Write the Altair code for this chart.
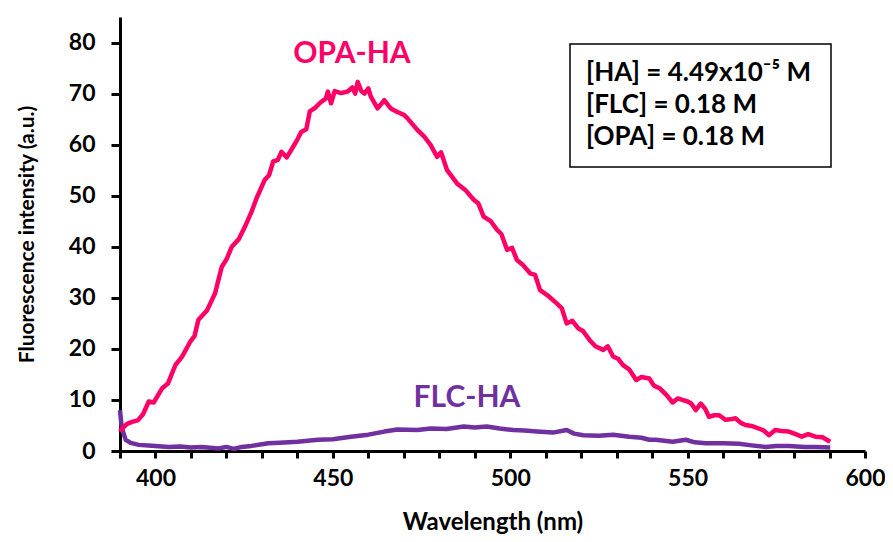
import altair as alt
import pandas as pd

# ---- data ----
opa_wl = [390, 390.6, 392, 393.4, 395, 396.5, 398.1, 399.5, 401.9, 403.5, 405.6, 407.5, 409.8, 411, 412.1,
          414.5, 416.8, 418.7, 420, 421.5, 423.5, 425.2, 427.1, 428.5, 430.8, 432, 433.2, 434.5, 435.5,
          437, 438.3, 440, 441.1, 442.5, 443.5, 445, 446.7, 448, 448.6, 449.5, 450.5, 452.3, 454.2,
          455.5, 456.3, 457, 458, 458.9, 460, 460.7, 462.6, 464.5, 466.3, 468.2, 470.1, 471, 473.8,
          475.7, 477.5, 479.4, 480.5, 482.2, 485, 487.5, 489.7, 491, 492.5, 494.5, 496.3, 497.5, 499.1,
          500.5, 501.9, 503.5, 505.6, 507, 508.4, 510.5, 513.1, 514.5, 515.9, 517.5, 519.2, 520.5,
          522.4, 524, 526.2, 527.5, 529, 530.5, 531.8, 533.5, 535.5, 537, 539.2, 540.5, 542.1, 544,
          545.8, 547.2, 548.5, 550, 551, 552.3, 553.7, 555, 556, 557.5, 558.9, 560.7, 562, 563.5,
          565, 566.3, 568, 570.1, 571.5, 572.9, 574.7, 576.5, 578.5, 580.5, 582.2, 584, 586, 588, 590.2]
opa_val = [3.8, 4.4, 5.3, 5.7, 6.0, 7.2, 9.7, 9.5, 12.3, 13.2, 16.8, 18.5, 21.4, 22.5, 25.7,
           27.5, 30.9, 36.1, 37.5, 40.0, 41.5, 43.9, 46.9, 49.5, 53.1, 54.0, 56.7, 57.0, 58.6,
           57.5, 59.0, 61.0, 62.5, 63.0, 66.5, 67.2, 68.4, 69.0, 70.4, 68.1, 70.5, 70.1, 70.4,
           71.2, 70.0, 72.3, 70.5, 70.0, 71.0, 69.4, 67.1, 68.7, 67.1, 66.4, 65.8, 65.2, 62.9,
           61.6, 60.0, 57.6, 58.5, 55.0, 52.4, 51.0, 49.2, 48.5, 45.9, 45.0, 43.3, 42.5, 39.4,
           39.8, 37.4, 36.5, 34.8, 34.5, 31.5, 30.5, 28.9, 28.0, 25.0, 25.5, 24.0, 23.5,
           21.7, 20.5, 19.8, 20.5, 18.5, 18.0, 16.8, 16.0, 13.9, 14.5, 14.2, 12.8, 12.3, 11.0,
           9.5, 10.3, 10.0, 9.7, 9.3, 8.0, 9.3, 8.2, 6.7, 7.0, 7.0, 6.1, 6.2, 6.4,
           5.5, 5.1, 4.9, 4.4, 4.0, 3.1, 4.1, 3.9, 3.8, 3.3, 2.8, 3.3, 2.8, 2.7, 1.8]

flc_wl = [390, 390.5, 391.6, 393, 395.3, 398, 400, 403.7, 407, 410, 413, 417.8, 420, 422, 424.3, 427,
          431.8, 435, 440, 445.8, 450, 455.1, 460, 464.5, 468.2, 473.8, 477.6, 482, 486.9, 490, 493.4,
          497, 500.9, 504, 507.5, 512, 515.9, 518, 520.6, 525, 529, 533.6, 537, 539.2, 541, 545.8,
          549.5, 552, 555.1, 560, 564.5, 568, 572, 575, 578.5, 583, 586, 590.2]
flc_val = [8.0, 4.5, 2.2, 1.6, 1.2, 1.1, 1.0, 0.8, 0.9, 0.7, 0.8, 0.5, 0.8, 0.4, 0.8, 1.0,
           1.5, 1.6, 1.8, 2.2, 2.3, 2.8, 3.2, 3.8, 4.2, 4.1, 4.4, 4.3, 4.8, 4.6, 4.8,
           4.4, 4.1, 4.0, 3.8, 3.6, 4.1, 3.4, 3.1, 3.0, 3.2, 2.8, 2.6, 2.2, 2.2, 1.8,
           2.2, 1.7, 1.5, 1.5, 1.4, 1.1, 0.8, 1.0, 1.0, 0.8, 0.8, 0.7]

x_ticks = list(range(390, 601, 10))
y_ticks = [0, 10, 20, 30, 40, 50, 60, 70, 80]
box_text_str = "[HA] = 4.49x10⁻⁵ M\n[FLC] = 0.18 M\n[OPA] = 0.18 M"

PINK = "#FF0066"
PURPLE = "#7030A0"
FONT = "Lato"

opa = pd.DataFrame({"wl": opa_wl, "val": opa_val})
flc = pd.DataFrame({"wl": flc_wl, "val": flc_val})

W, H = 745, 434

x_enc = alt.X("wl:Q", scale=alt.Scale(domain=[390, 600], nice=False, zero=False),
              axis=alt.Axis(values=x_ticks, title="Wavelength (nm)", labelFlush=False,
                            labelExpr="datum.value % 50 === 0 ? datum.label : ''",
                            tickSize=7, labelPadding=9, titlePadding=20, titleFontSize=24))
y_enc = alt.Y("val:Q", scale=alt.Scale(domain=[0, 85], nice=False),
              axis=alt.Axis(values=y_ticks, title="Fluorescence intensity (a.u.)", labelFlush=False,
                            tickSize=9, labelPadding=16, titlePadding=31, titleFontSize=21))

flc_line = alt.Chart(flc).mark_line(color=PURPLE, strokeWidth=4.5, strokeJoin="round").encode(x=x_enc, y=y_enc)
opa_line = alt.Chart(opa).mark_line(color=PINK, strokeWidth=4.5, strokeJoin="round").encode(x=x_enc, y=y_enc)

one = pd.DataFrame({"t": [box_text_str]})
box = alt.Chart(one).mark_rect(fill="white", stroke="black", strokeWidth=1.5).encode(
    x=alt.value(450), x2=alt.value(711), y=alt.value(27), y2=alt.value(150))

box_text = alt.Chart(one).mark_text(align="left", baseline="middle", font=FONT, fontWeight="bold",
                                    fontSize=26, lineHeight=32, lineBreak="\n", color="black").encode(
    x=alt.value(466), y=alt.value(56), text="t:N")

opa_label = alt.Chart(pd.DataFrame({"t": ["OPA-HA"]})).mark_text(
    font=FONT, fontWeight="bold", fontSize=30, color=PINK, align="center", baseline="middle").encode(
    x=alt.value(232), y=alt.value(37), text="t:N")
flc_label = alt.Chart(pd.DataFrame({"t": ["FLC-HA"]})).mark_text(
    font=FONT, fontWeight="bold", fontSize=30, color=PURPLE, align="center", baseline="middle").encode(
    x=alt.value(347), y=alt.value(381), text="t:N")

chart = alt.layer(flc_line, opa_line, box, box_text, opa_label, flc_label).properties(
    width=W, height=H,
    autosize=alt.AutoSizeParams(type="none"),
    padding={"left": 112, "top": 9, "right": 20, "bottom": 83},
).configure_view(stroke=None).configure_axis(
    grid=False, domainColor="black", domainWidth=3, tickColor="black", tickWidth=3,
    labelFont=FONT, labelFontSize=23, labelFontWeight="bold", labelColor="black",
    titleFont=FONT, titleFontWeight="bold", titleColor="black",
)

chart.save("out.html", embed_options={"renderer": "svg", "actions": False})
